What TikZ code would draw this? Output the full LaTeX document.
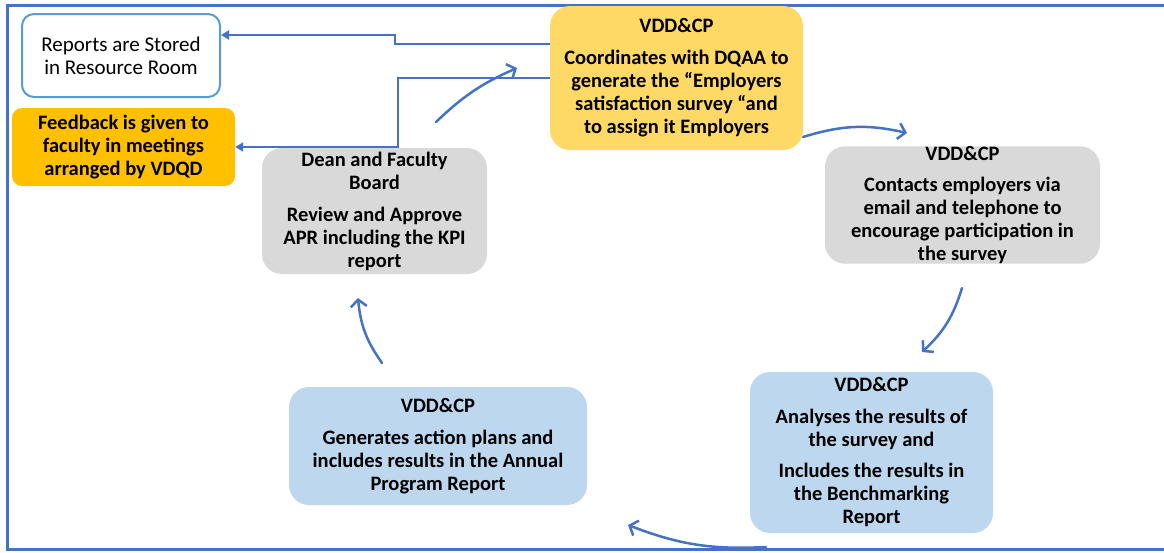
\documentclass[tikz,border=0pt]{standalone}
\usepackage{fontspec}
\setmainfont{Carlito}
\usetikzlibrary{arrows.meta,calc}
\definecolor{lineblue}{HTML}{4472C4}
\definecolor{boxblue}{HTML}{5B9BD5}
\definecolor{gold}{HTML}{FFC000}
\definecolor{lightgold}{HTML}{FFD966}
\definecolor{lgray}{HTML}{D9D9D9}
\definecolor{lblue}{HTML}{BDD7EE}
\tikzset{
  stepbox/.style={rounded corners=20pt, align=center, inner sep=0pt,
    font=\fontsize{20.5}{23}\selectfont\bfseries},
  conn/.style={draw=lineblue, line width=2.5pt, -{Triangle[length=8pt,width=9pt]}},
  curv/.style={draw=lineblue, line width=2.5pt, line cap=round,
    -{Straight Barb[length=7pt,width=16pt,line width=2.5pt]}},
}
\begin{document}
\begin{tikzpicture}[x=1pt,y=-1pt]
\useasboundingbox (0,0) rectangle (1164,552);
% frame
\draw[lineblue, line width=3pt] (1164,5) -- (7,5) -- (7,549) -- (1164,549);
% nodes
\node[draw=boxblue, line width=2pt, fill=white, rounded corners=12pt, align=center,
  inner sep=0pt, minimum width=198pt, minimum height=83pt,
  font=\fontsize{21}{23}\selectfont] (rep) at (121,55.5) {Reports are Stored\\in Resource Room};
\node[stepbox, fill=gold, rounded corners=10pt, minimum width=223pt, minimum height=78pt]
  (fb) at (123.5,147) {Feedback is given to\\faculty in meetings\\arranged by VDQD};
\node[stepbox, fill=lightgold, minimum width=253pt, minimum height=144pt]
  (top) at (676.5,78) {VDD\&CP\\[9pt]Coordinates with DQAA to\\generate the “Employers\\satisfaction survey “and\\to assign it Employers};
\node[stepbox, fill=lgray, minimum width=275pt, minimum height=116pt]
  (c1) at (962.5,205) {VDD\&CP\\[8pt]Contacts employers via\\email and telephone to\\encourage participation in\\the survey};
\node[stepbox, fill=lblue, minimum width=243pt, minimum height=161pt]
  (c2) at (871.5,452.5) {VDD\&CP\\[9pt]Analyses the results of\\the survey and\\[8pt]Includes the results in\\the Benchmarking\\Report};
\node[stepbox, fill=lblue, minimum width=298pt, minimum height=118pt]
  (c3) at (438,446) {VDD\&CP\\[9pt]Generates action plans and\\includes results in the Annual\\Program Report};
\node[stepbox, fill=lgray, minimum width=225pt, minimum height=126pt]
  (c4) at (374.5,211) {Dean and Faculty\\Board\\[9pt]Review and Approve\\APR including the KPI\\report};
% elbow connectors
\coordinate (s1) at (395,35);
\coordinate (s2) at (398,78);
\draw[conn] ($(top.west)+(0,-34)$) -| (s1) -- (rep.east |- s1);
\draw[conn] (top.west) -- (s2) |- (fb.east);
% curved connectors
\coordinate (a1s) at (803,137);
\coordinate (a1e) at (907,133);
\coordinate (a2s) at (962,288);
\coordinate (a2e) at (922,352);
\coordinate (a3s) at (766,547);
\coordinate (a3e) at (628,525);
\coordinate (a4s) at (382,363);
\coordinate (a4e) at (358,298);
\coordinate (a5s) at (436,122);
\coordinate (a5e) at (517,68);
\draw[curv] (a1s) to[bend left=15] (a1e);
\draw[curv] (a2s) to[bend left=15] (a2e);
\draw[curv] (a3s) to[bend left=12] (a3e);
\draw[curv] (a4s) to[bend left=15] (a4e);
\draw[curv] (a5s) to[bend left=10] (a5e);
\end{tikzpicture}
\end{document}
